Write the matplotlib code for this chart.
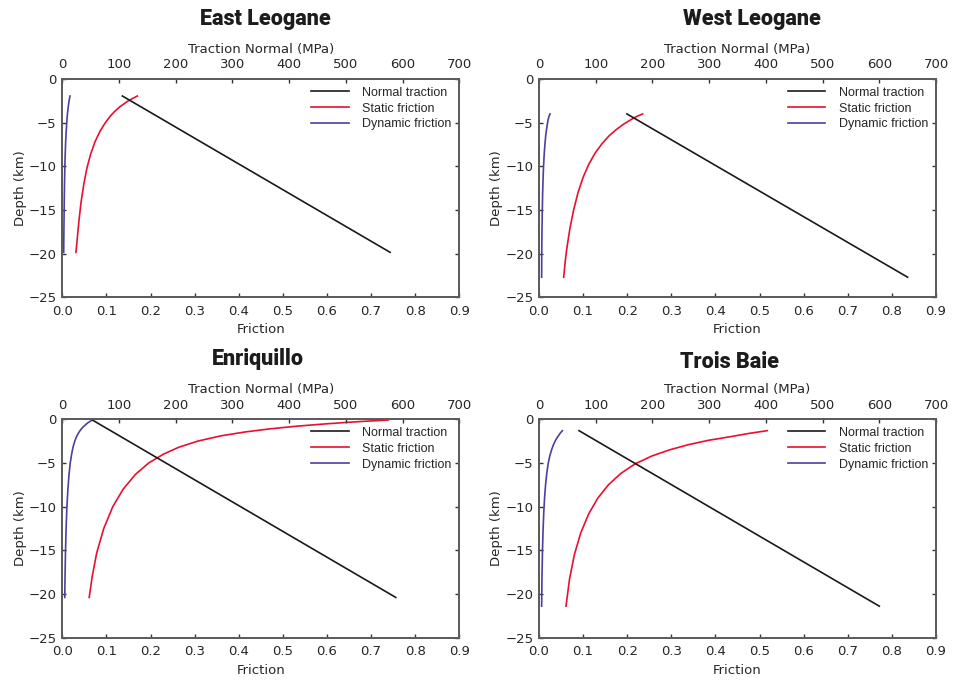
import matplotlib
matplotlib.use("Agg")
import matplotlib.pyplot as plt

plt.rcParams["font.family"] = ["DejaVu Sans"]

# ---- East Leogane ----
east_nt_depth = [-1.95, -19.85]
east_nt_mpa = [106, 578]
east_fr_depth = [-1.95, -2.2, -2.5, -2.8, -3.2, -3.7, -4.3, -5.0, -6.0, -7.2, -8.6,
                 -10.2, -12.0, -14.0, -16.2, -18.0, -19.85]
east_static = [0.170, 0.1605, 0.1497, 0.141, 0.130, 0.119, 0.108, 0.0976, 0.0853, 0.0741,
               0.0643, 0.0558, 0.0489, 0.0428, 0.0378, 0.0344, 0.031]
east_dynamic = [0.0175, 0.0165, 0.0154, 0.0145, 0.0134, 0.0123, 0.0111, 0.0101, 0.0088,
                0.0076, 0.0066, 0.0057, 0.0050, 0.0044, 0.0039, 0.0035, 0.0032]

# ---- West Leogane ----
west_nt_depth = [-4.0, -22.7]
west_nt_mpa = [155, 650]
west_fr_depth = [-4.0, -4.3, -4.7, -5.2, -5.8, -6.5, -7.4, -8.5, -9.8, -11.3, -13.0,
                 -15.0, -17.2, -19.5, -21.0, -22.7]
west_static = [0.235, 0.221, 0.207, 0.191, 0.175, 0.159, 0.143, 0.127, 0.1125, 0.0997,
               0.0885, 0.0785, 0.0698, 0.0628, 0.0592, 0.0560]
west_dynamic = [0.025, 0.0225, 0.0205, 0.0188, 0.0170, 0.0152, 0.0136, 0.0119, 0.0105,
                0.0093, 0.0083, 0.0075, 0.0068, 0.0063, 0.0061, 0.0060]

# ---- Enriquillo ----
enri_nt_depth = [-0.08, -20.4]
enri_nt_mpa = [53, 588]
enri_fr_depth = [-0.08, -0.2, -0.35, -0.55, -0.8, -1.1, -1.45, -1.9, -2.5, -3.2, -4.0,
                 -5.0, -6.3, -8.0, -10.0, -12.5, -15.3, -18.0, -20.4]
enri_static = [0.739, 0.695, 0.646, 0.590, 0.529, 0.470, 0.414, 0.359, 0.307, 0.264,
               0.229, 0.196, 0.166, 0.138, 0.1145, 0.094, 0.078, 0.0678, 0.061]
enri_dynamic = [0.068, 0.064, 0.0595, 0.0543, 0.0487, 0.0432, 0.0381, 0.0330, 0.0282,
                0.0243, 0.0211, 0.0180, 0.0153, 0.0127, 0.0105, 0.0086, 0.0072, 0.0062,
                0.0056]

# ---- Trois Baie ----
trois_nt_depth = [-1.3, -21.4]
trois_nt_mpa = [70.5, 600]
trois_fr_depth = [-1.3, -1.6, -2.0, -2.4, -2.9, -3.5, -4.2, -5.1, -6.2, -7.5, -9.0,
                  -10.8, -13.0, -15.5, -18.3, -21.4]
trois_static = [0.5176, 0.478, 0.433, 0.385, 0.339, 0.296, 0.256, 0.218, 0.1855, 0.1575,
                0.1337, 0.113, 0.0947, 0.0802, 0.0692, 0.0612]
trois_dynamic = [0.0529, 0.0480, 0.0425, 0.0375, 0.0328, 0.0285, 0.0245, 0.0207, 0.0176,
                 0.0149, 0.0126, 0.0107, 0.0090, 0.0077, 0.0067, 0.0060]

faults = ["East Leogane", "West Leogane", "Enriquillo", "Trois Baie"]
x_ticks = [0.0, 0.1, 0.2, 0.3, 0.4, 0.5, 0.6, 0.7, 0.8, 0.9]
top_ticks = [0, 100, 200, 300, 400, 500, 600, 700]
y_ticks = [0, -5, -10, -15, -20, -25]

panels = [
    (east_nt_depth, east_nt_mpa, east_fr_depth, east_static, east_dynamic),
    (west_nt_depth, west_nt_mpa, west_fr_depth, west_static, west_dynamic),
    (enri_nt_depth, enri_nt_mpa, enri_fr_depth, enri_static, enri_dynamic),
    (trois_nt_depth, trois_nt_mpa, trois_fr_depth, trois_static, trois_dynamic),
]

# axes boxes (left, top, width, height) and title centres in figure pixels
W, H = 961, 681
boxes = [(62.3, 79, 397, 218.3), (539, 79, 397, 218.3),
         (62.3, 419.3, 397, 218.3), (539, 419.3, 397, 218.3)]
title_pos = [(265, 19), (752, 19), (258, 359), (730, 362)]

TXT = "#262626"
SPINE = "#5c5c5c"

fig = plt.figure(figsize=(W / 100, H / 100), dpi=100)

for i, name in enumerate(faults):
    nt_d, nt_v, fr_d, st, dy = panels[i]
    x0, y0, w, h = boxes[i]
    ax = fig.add_axes([x0 / W, 1 - (y0 + h) / H, w / W, h / H])
    ax2 = ax.twiny()

    l_st, = ax.plot(st, fr_d, color="#e8102e", lw=1.2, label="Static friction")
    l_dy, = ax.plot(dy, fr_d, color="#4a40a0", lw=1.2, label="Dynamic friction")
    l_nt, = ax2.plot(nt_v, nt_d, color="#1a1a1a", lw=1.2, label="Normal traction")

    ax.set_xlim(0, 0.9)
    ax.set_ylim(-25, 0)
    ax2.set_xlim(0, 700)
    ax.set_xticks(x_ticks)
    ax.set_xticklabels([f"{v:.1f}" for v in x_ticks])
    ax.set_yticks(y_ticks)
    ax2.set_xticks(top_ticks)

    for a in (ax, ax2):
        for sp in a.spines.values():
            sp.set_color(SPINE)
            sp.set_linewidth(1.3)
    ax.tick_params(axis="x", direction="in", length=3, width=1, color="#333333",
                   labelsize=9.5, labelcolor=TXT, pad=5.5)
    ax.tick_params(axis="y", direction="in", length=3, width=1, color="#333333",
                   labelsize=9.5, labelcolor=TXT, pad=4, right=True)
    ax2.tick_params(axis="x", direction="in", length=3, width=1, color="#333333",
                    labelsize=9.5, labelcolor=TXT, pad=5.5)

    ax.set_xlabel("Friction", fontsize=9.5, color=TXT, labelpad=4)
    ax.set_ylabel("Depth (km)", fontsize=9.5, color=TXT, labelpad=1.5)
    ax2.set_xlabel("Traction Normal (MPa)", fontsize=9.5, color=TXT, labelpad=4)

    ax2.legend(handles=[l_nt, l_st, l_dy], loc="upper right", frameon=False,
               prop={"family": "Liberation Sans", "size": 9},
               handlelength=3.0, handletextpad=1.1, labelspacing=0.32,
               borderaxespad=0.2, labelcolor=TXT)

    tx, ty = title_pos[i]
    fig.text(tx / W, 1 - ty / H, name, ha="center", va="center",
             fontsize=15.5, fontweight="black", family="Roboto", color="#1c1c1c")

fig.savefig("out.png", dpi=100)
